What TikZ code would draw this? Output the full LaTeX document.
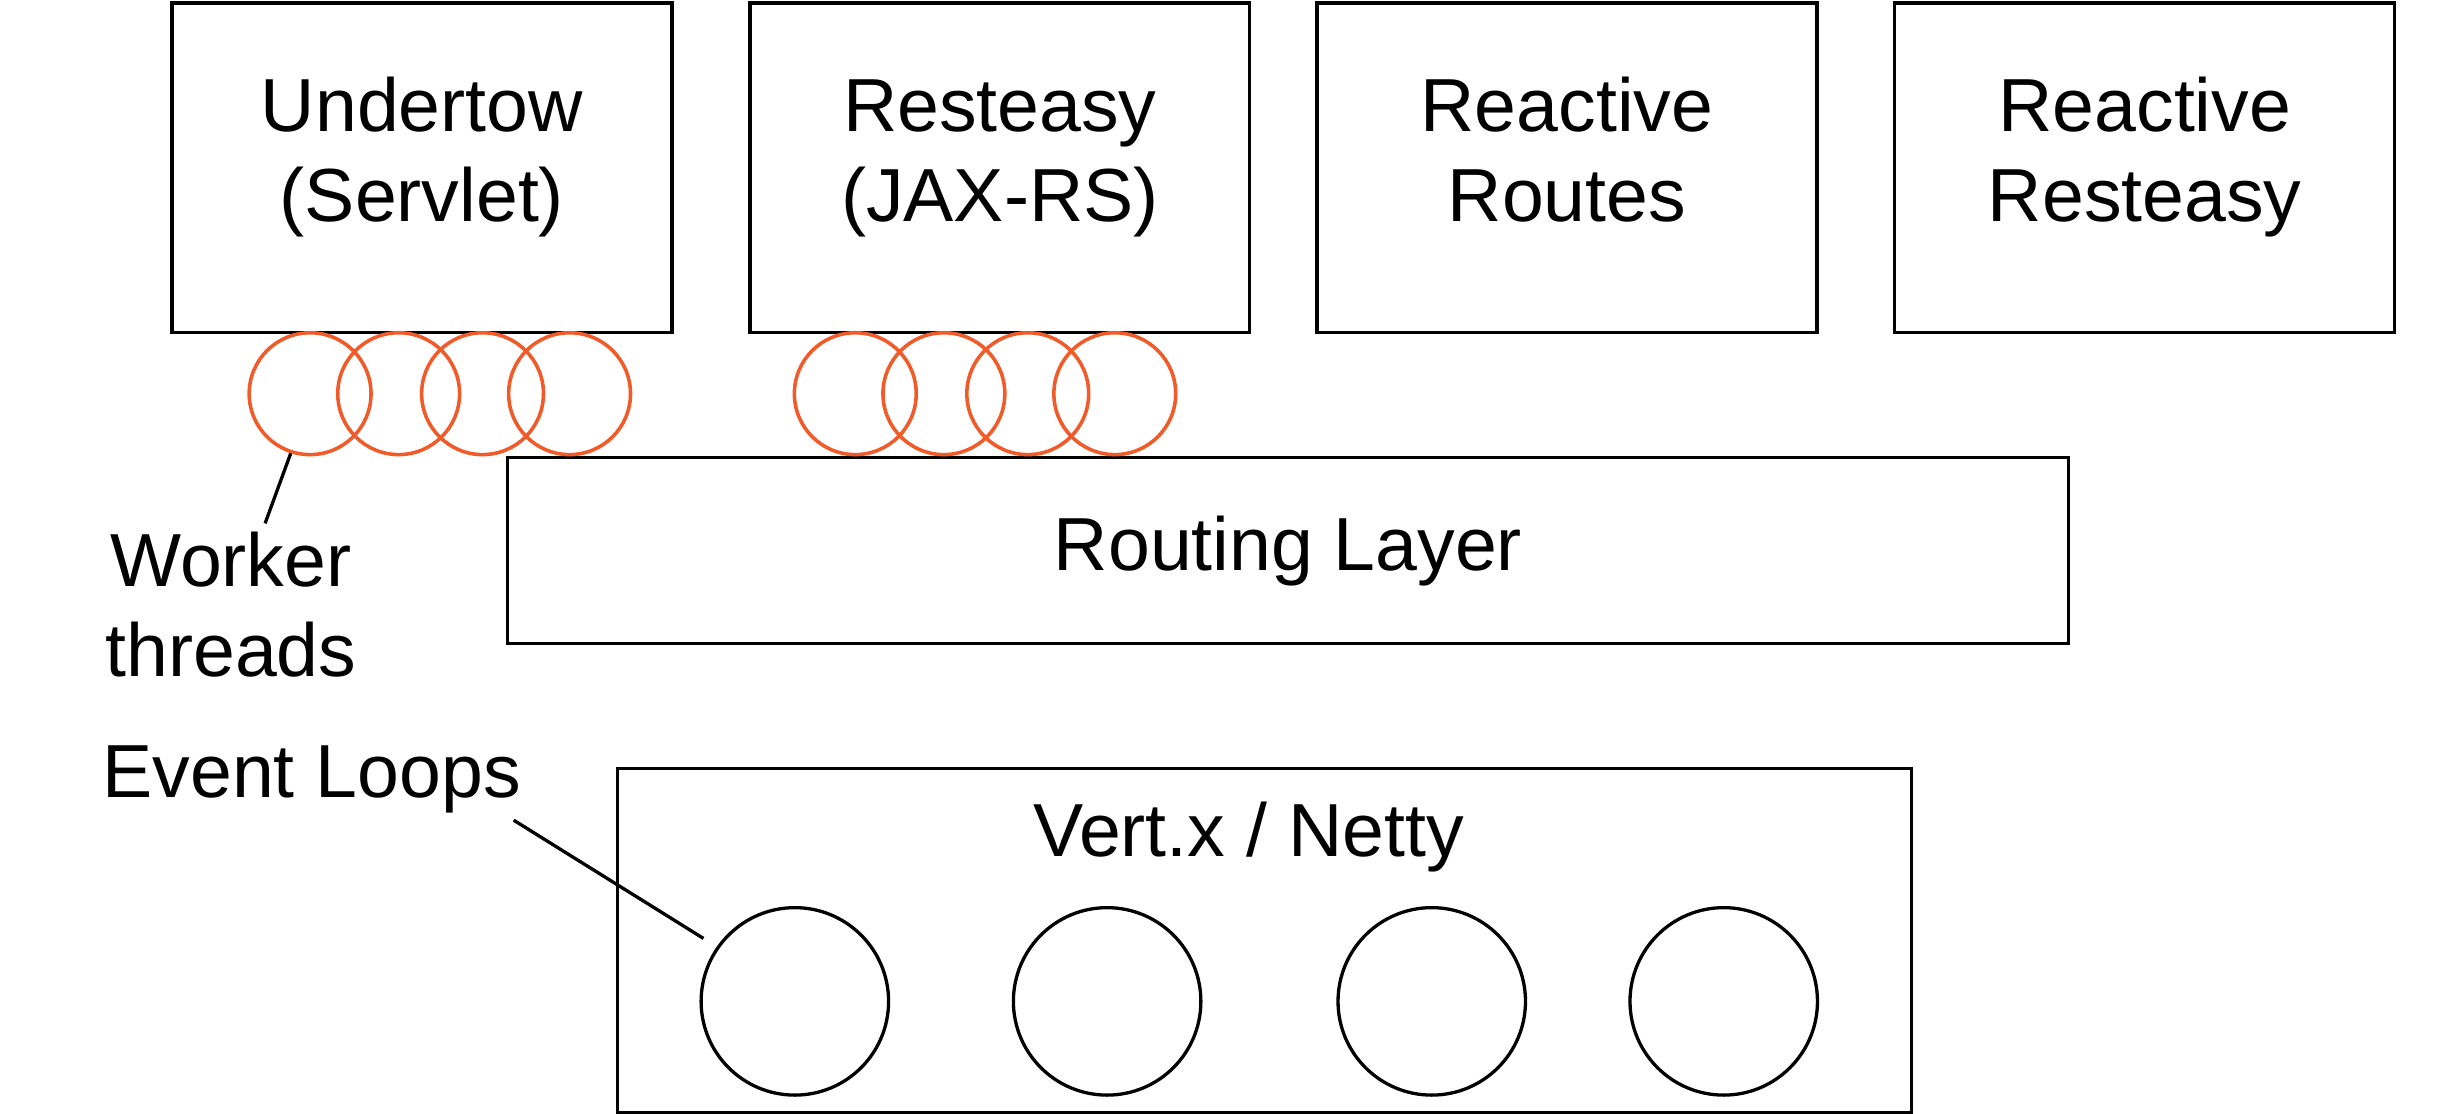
\documentclass[tikz,border=0pt]{standalone}
\usepackage{fontspec}
\setmainfont{Liberation Sans}
\definecolor{threadorange}{HTML}{F15A29}
\newcommand{\lowstrut}{\rule[-8.4pt]{0pt}{8.4pt}}

\begin{document}
\begin{tikzpicture}[box/.style={draw, line width=0.6pt, align=center, inner sep=0pt},
		worker/.style={draw=threadorange, line width=0.65pt, circle, minimum size=0.78cm, inner sep=0pt},
		loop/.style={draw, line width=0.6pt, circle, minimum size=1.2cm, inner sep=0pt},
		lbl/.style={align=center, inner sep=0pt},
		every node/.append style={font=\fontsize{13.7}{16.5}\selectfont}]
		\useasboundingbox (0,0) rectangle (15.6,-7.13);
		
		\node[box, minimum width=3.2cm, minimum height=2.11cm] (undertow) at (2.701,-1.075) {\strut Undertow\\\lowstrut (Servlet)};
		\node[box, minimum width=3.2cm, minimum height=2.11cm] (resteasy) at (6.400,-1.075) {\strut Resteasy\\\lowstrut (JAX-RS)};
		\node[box, minimum width=3.2cm, minimum height=2.11cm] (routes) at (10.030,-1.075) {\strut Reactive\\\lowstrut Routes};
		\node[box, minimum width=3.2cm, minimum height=2.11cm] (rresteasy) at (13.729,-1.075) {\strut Reactive\\\lowstrut Resteasy};
		
		\node[box, minimum width=9.994cm, minimum height=1.19cm] (routing) at (8.245,-3.525) {Routing Layer};
		
		\node[box, minimum width=8.284cm, minimum height=2.20cm] (vertx) at (8.096,-6.02) {};
		\node[lbl] (netty) at (7.991,-5.36) {Vert.x / Netty};
		
		% worker threads
		\node[worker] (w1) at (1.985,-2.52) {};
		\node[worker] (w2) at (2.552,-2.52) {};
		\node[worker] (w3) at (3.089,-2.52) {};
		\node[worker] (w4) at (3.646,-2.52) {};
		\node[worker] (w5) at (5.475,-2.52) {};
		\node[worker] (w6) at (6.042,-2.52) {};
		\node[worker] (w7) at (6.579,-2.52) {};
		\node[worker] (w8) at (7.136,-2.52) {};
		
		% event loops
		\node[loop] (e1) at (5.088,-6.41) {};
		\node[loop] (e2) at (7.087,-6.41) {};
		\node[loop] (e3) at (9.165,-6.41) {};
		\node[loop] (e4) at (11.034,-6.41) {};
		
		\node[lbl] (threads) at (1.478,-3.87) {Worker\\threads};
		\node[lbl] (loops) at (1.995,-4.99) {Event Loops};
		
		\coordinate (wt) at (1.697,-3.35);
		\coordinate (lt) at (3.288,-5.25);
		\draw[line width=0.6pt] (w1.252) -- (wt);
		\draw[line width=0.6pt, shorten >=0.1cm] (lt) -- (e1.145);
		
	\end{tikzpicture}
\end{document}
